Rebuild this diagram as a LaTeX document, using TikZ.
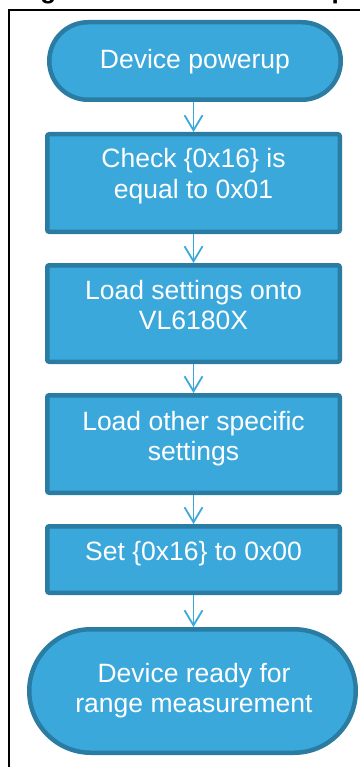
\documentclass[tikz,border=0pt]{standalone}
\usepackage{fontspec}
\setmainfont{Liberation Sans}
\usetikzlibrary{arrows.meta}
\definecolor{boxfill}{RGB}{59,168,220}
\definecolor{boxline}{RGB}{42,124,163}
\begin{document}
\begin{tikzpicture}[x=1pt,y=-1pt,
  procbox/.style={draw=boxline, fill=boxfill, line width=4.5pt, rounded corners=2pt,
    inner sep=0pt, minimum width=292.5pt},
  termbox/.style={draw=boxline, fill=boxfill, line width=4.5pt, inner sep=0pt},
  lbl/.style={text=white, font=\fontsize{26.5}{31}\selectfont, anchor=base, inner sep=0pt},
  arr/.style={draw=boxfill, line width=1.8pt, -{Straight Barb[length=15pt,width=18pt]}},
  frameline/.style={line width=2.6pt, black},
  titletext/.style={font=\fontsize{26}{30}\selectfont\bfseries, anchor=base west, inner sep=0pt}]
\useasboundingbox (0,0) rectangle (359,767);
% partially visible caption and frame
\node[titletext] (title) at (17,-1) {Figure 3. Initialisation steps};
\draw[frameline] (9,772) -- (9,10) -- (364,10);
% boxes
\node[termbox, minimum width=291.5pt, minimum height=77.5pt, rounded corners=38.75pt] (b1) at (195,61) {};
\node[procbox, minimum height=97.5pt] (b2) at (193.5,183) {};
\node[procbox, minimum height=96.5pt] (b3) at (193.5,313.5) {};
\node[procbox, minimum height=97.5pt] (b4) at (193.5,444) {};
\node[procbox, minimum height=66.5pt] (b5) at (193.5,559.5) {};
\node[termbox, minimum width=326.5pt, minimum height=123.5pt, rounded corners=61.75pt] (b6) at (192.5,691) {};
% labels
\node[lbl] (t1) at (195,69) {Device powerup};
\node[lbl] (t2a) at (193.5,168) {Check \{0x16\} is};
\node[lbl] (t2b) at (193.5,199) {equal to 0x01};
\node[lbl] (t3a) at (193.5,299) {Load settings onto};
\node[lbl] (t3b) at (193.5,329) {VL6180X};
\node[lbl] (t4a) at (193.5,430) {Load other specific};
\node[lbl] (t4b) at (193.5,460) {settings};
\node[lbl] (t5) at (193.5,560) {Set \{0x16\} to 0x00};
\node[lbl] (t6a) at (194,682) {Device ready for};
\node[lbl] (t6b) at (194,712) {range measurement};
% connectors
\draw[arr] (b2.north |- b1.south) -- (b2.north);
\draw[arr] (b2.south) -- (b3.north);
\draw[arr] (b3.south) -- (b4.north);
\draw[arr] (b4.south) -- (b5.north);
\draw[arr] (b5.south) -- (b5.south |- b6.north);
\end{tikzpicture}
\end{document}
